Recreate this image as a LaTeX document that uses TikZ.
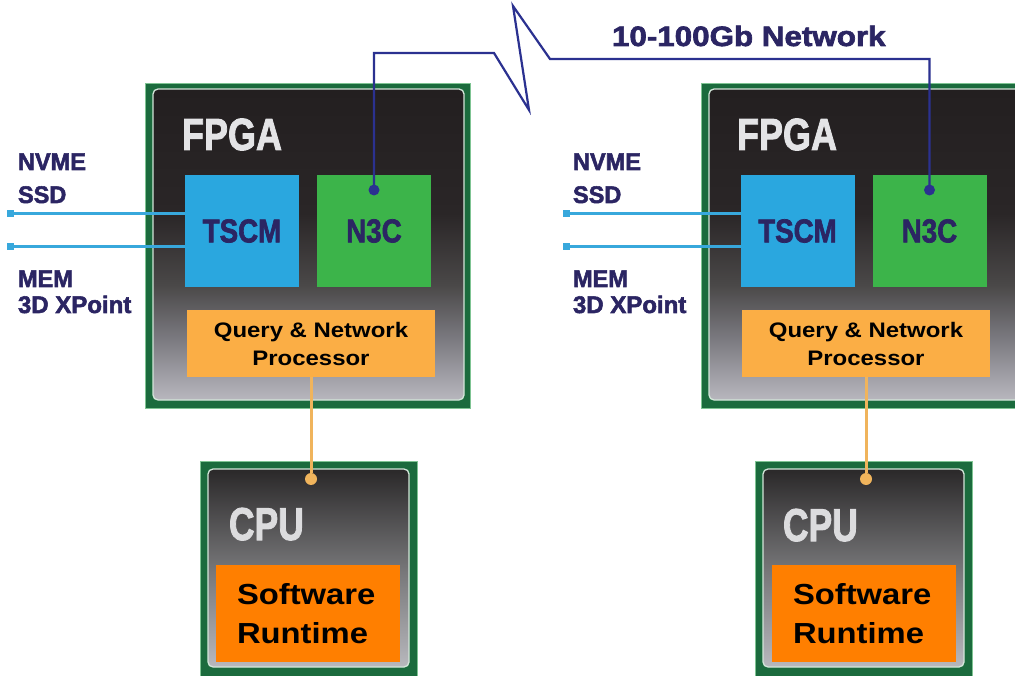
\documentclass[tikz,border=0pt]{standalone}
\usepackage{fontspec}
\setmainfont{Liberation Sans}
\newfontfamily\heavy[BoldFont={Liberation Sans Bold}, BoldFeatures={FakeBold=2.2}]{Liberation Sans}
\usepackage{graphicx}
\definecolor{chipgreen}{HTML}{1B6B3D}
\definecolor{chipedge}{HTML}{7FC493}
\definecolor{paleline}{HTML}{D3E6D9}
\definecolor{tscmblue}{HTML}{2AA7DF}
\definecolor{n3cgreen}{HTML}{3CB44A}
\definecolor{qporange}{HTML}{FBAE45}
\definecolor{sworange}{HTML}{FF7F00}
\definecolor{navytext}{HTML}{2B2563}
\definecolor{netblue}{HTML}{2B3190}
\definecolor{storblue}{HTML}{38A8DC}
\definecolor{qline}{HTML}{F0B45C}
\definecolor{labelgray}{HTML}{E4E4E6}
\definecolor{fpT}{HTML}{231F20}
\definecolor{fpA}{HTML}{2A2627}
\definecolor{fpM}{HTML}{4A4848}
\definecolor{fpN}{HTML}{7A797F}
\definecolor{fpB}{HTML}{B8B7BE}
\definecolor{cpT}{HTML}{2A2829}
\definecolor{cpM}{HTML}{757577}
\definecolor{cpB}{HTML}{B8B8BD}
\pgfdeclareverticalshading{fpgash}{100bp}{color(0bp)=(fpB); color(25bp)=(fpB); color(35bp)=(fpN); color(43.5bp)=(fpM); color(55bp)=(fpA); color(75bp)=(fpT); color(100bp)=(fpT)}
\pgfdeclareverticalshading{cpush}{100bp}{color(0bp)=(cpB); color(25bp)=(cpB); color(50bp)=(cpM); color(75bp)=(cpT); color(100bp)=(cpT)}
\newcommand{\xs}[2]{\scalebox{#1}[1]{#2}}
\tikzset{
  chip/.style={fill=chipgreen, draw=chipedge, line width=0.8pt, anchor=north west},
  fpgacore/.style={shading=fpgash, draw=paleline, line width=1.3pt, rounded corners=5pt},
  cpucore/.style={shading=cpush, draw=paleline, line width=1.3pt, rounded corners=5pt},
  chiplabel/.style={text=labelgray, font=\fontsize{45}{45}\selectfont\heavy\bfseries, anchor=base west},
  blk/.style={minimum width=114pt, minimum height=112pt, text=navytext, font=\fontsize{33}{33}\selectfont\heavy\bfseries},
  qproc/.style={fill=qporange, minimum width=248pt, minimum height=67pt, align=center, text=black, font=\fontsize{21}{28}\selectfont\bfseries},
  swbox/.style={fill=sworange, anchor=north west, minimum height=97pt, text width=142pt, inner xsep=21pt, align=left, text=black, font=\fontsize{29}{39}\selectfont\bfseries},
  sidelabel/.style={text=navytext, font=\fontsize{24}{24}\selectfont\heavy\bfseries, anchor=base west},
  stor/.style={draw=storblue, line width=3pt},
  sqend/.style={fill=storblue, minimum size=7pt},
  net/.style={draw=netblue, line width=2.2pt, line join=miter},
  ndot/.style={circle, fill=netblue, minimum size=11pt},
  qln/.style={draw=qline, line width=3pt},
  qdot/.style={circle, fill=qline, minimum size=12pt},
}
\begin{document}
\begin{tikzpicture}[x=1pt, y=-1pt, every node/.style={inner sep=0pt, outer sep=0pt}]
\clip (0,0) rectangle (1015,676);
\fill[white] (0,0) rectangle (1015,676);

% ---------- FPGA chips ----------
\node[chip, minimum width=325pt, minimum height=325pt] (fpgaL) at (145,83) {};
\path[fpgacore] ([shift={(8,6)}]fpgaL.north west) rectangle ([shift={(-6,-8)}]fpgaL.south east);
\node[chip, minimum width=325pt, minimum height=325pt] (fpgaR) at (701,83) {};
\path[fpgacore] ([shift={(8,6)}]fpgaR.north west) rectangle ([shift={(-6,-8)}]fpgaR.south east);

\node[chiplabel] (fpgaTL) at (182,150) {\xs{0.8}{FPGA}};
\node[chiplabel] (fpgaTR) at (737,150) {\xs{0.8}{FPGA}};

% ---------- CPU chips ----------
\node[chip, minimum width=217pt, minimum height=222pt] (cpuL) at (200,461) {};
\path[cpucore] ([shift={(8,8)}]cpuL.north west) rectangle ([shift={(-8,-16)}]cpuL.south east);
\node[chip, minimum width=217pt, minimum height=222pt] (cpuR) at (755,461) {};
\path[cpucore] ([shift={(8,8)}]cpuR.north west) rectangle ([shift={(-8,-16)}]cpuR.south east);

\node[chiplabel, font=\fontsize{46}{46}\selectfont\heavy\bfseries, text=labelgray!92!gray] (cpuTL) at (229,540) {\xs{0.77}{CPU}};
\node[chiplabel, font=\fontsize{46}{46}\selectfont\heavy\bfseries, text=labelgray!92!gray] (cpuTR) at (783,541) {\xs{0.77}{CPU}};

\node[swbox] (swL) at (216,565) {\xs{1.13}{Software}\\\xs{1.13}{Runtime}};
\node[swbox] (swR) at (772,565) {\xs{1.13}{Software}\\\xs{1.13}{Runtime}};

% ---------- blocks inside FPGA ----------
\node[blk, fill=tscmblue] (tscmL) at (242,231) {\xs{0.84}{TSCM}};
\node[blk, fill=n3cgreen] (n3cL) at (374,231) {\xs{0.84}{N3C}};
\node[qproc] (qpL) at (311,343.5) {\xs{1.14}{Query \& Network}\\\xs{1.14}{Processor}};

\node[blk, fill=tscmblue] (tscmR) at (797.5,231) {\xs{0.84}{TSCM}};
\node[blk, fill=n3cgreen] (n3cR) at (929.5,231) {\xs{0.84}{N3C}};
\node[qproc] (qpR) at (866,343.5) {\xs{1.14}{Query \& Network}\\\xs{1.14}{Processor}};

% ---------- storage links ----------
\node[sqend] (sqL1) at (10,214) {};
\node[sqend] (sqL2) at (10,247) {};
\node[sqend] (sqR1) at (566,214) {};
\node[sqend] (sqR2) at (566,247) {};
\draw[stor] (sqL1) -- (sqL1 -| tscmL.west);
\draw[stor] (sqL2) -- (sqL2 -| tscmL.west);
\draw[stor] (sqR1) -- (sqR1 -| tscmR.west);
\draw[stor] (sqR2) -- (sqR2 -| tscmR.west);

\node[sidelabel] (nvmeL) at (18,170) {\xs{0.98}{NVME}};
\node[sidelabel] (ssdL) at (18,203) {\xs{0.98}{SSD}};
\node[sidelabel] (memL) at (18,287) {\xs{0.98}{MEM}};
\node[sidelabel] (xpL) at (18,313) {\xs{1.0}{3D XPoint}};
\node[sidelabel] (nvmeR) at (573,170) {\xs{0.98}{NVME}};
\node[sidelabel] (ssdR) at (573,203) {\xs{0.98}{SSD}};
\node[sidelabel] (memR) at (573,287) {\xs{0.98}{MEM}};
\node[sidelabel] (xpR) at (573,313) {\xs{1.0}{3D XPoint}};

% ---------- network ----------
\node[ndot] (ndL) at (374,190) {};
\node[ndot] (ndR) at (929.5,190) {};
\draw[net] (ndL.center) -- (374,53) -- (494,53) -- (529,110) -- (513,6) -- (550,59) -- (929.5,59) -- (ndR.center);
\node[sidelabel, font=\fontsize{28}{28}\selectfont\heavy\bfseries] (netlbl) at (612,46) {\xs{1.12}{10-100Gb Network}};

% ---------- query processor to CPU ----------
\node[qdot] (cdL) at (311,479) {};
\node[qdot] (cdR) at (866,479) {};
\draw[qln] (qpL) -- (cdL);
\draw[qln] (qpR) -- (cdR);
\end{tikzpicture}
\end{document}
